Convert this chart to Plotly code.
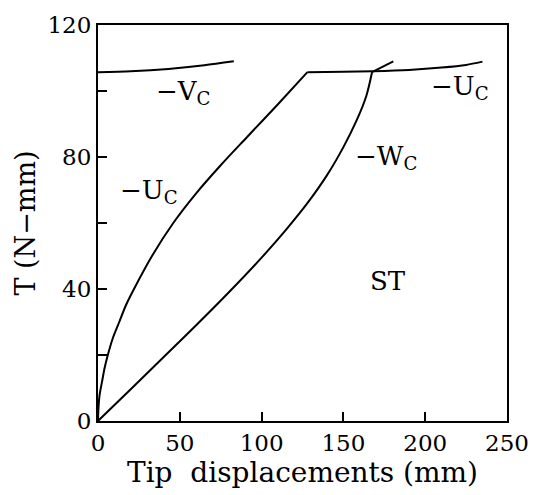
import plotly.graph_objects as go

# -U_C rising branch
u_x = [0, 0.3, 1, 2.5, 4, 6, 9, 13, 17, 22, 33, 46, 60, 75, 91, 110, 128]
u_t = [0, 4, 8, 12, 16, 20, 25, 30, 35, 40, 50, 60, 69, 77.5, 86, 96, 105.7]
# -U_C near-flat continuation
u2_x = [128, 150, 168, 190, 210, 225, 235]
u2_t = [105.7, 105.8, 106.0, 106.4, 107.1, 107.9, 108.9]

# -V_C curve
v_x = [0, 20, 43, 65, 83]
v_t = [105.7, 106.0, 106.7, 107.8, 109.0]

# -W_C curve
w_x = [0, 20, 40, 60, 80, 100, 115, 128, 140, 150, 158, 164, 167.5]
w_t = [0, 9.6, 19.3, 29, 39, 49.5, 58, 66, 74.5, 83, 91, 98.5, 105.7]
w_branch_x = [167.5, 180.5]
w_branch_t = [105.7, 109.0]

x_ticks = [0, 50, 100, 150, 200, 250]
y_ticks = [0, 40, 80, 120]
y_minor_ticks = [20, 60, 100]

labels = [
    ("\u2212V<sub>C</sub>", 52, 99.5),
    ("\u2212U<sub>C</sub>", 31, 69.5),
    ("\u2212W<sub>C</sub>", 176, 80),
    ("\u2212U<sub>C</sub>", 221, 101),
    ("ST", 177, 42.5),
]

FONT = "DejaVu Serif"
line = dict(color="black", width=2)

fig = go.Figure()
fig.add_trace(go.Scatter(x=u_x, y=u_t, mode="lines", line=dict(line, shape="spline", smoothing=0.8)))
fig.add_trace(go.Scatter(x=u2_x, y=u2_t, mode="lines", line=dict(line, shape="spline", smoothing=0.8)))
fig.add_trace(go.Scatter(x=v_x, y=v_t, mode="lines", line=dict(line, shape="spline", smoothing=0.8)))
fig.add_trace(go.Scatter(x=w_x, y=w_t, mode="lines", line=dict(line, shape="spline", smoothing=0.8)))
fig.add_trace(go.Scatter(x=w_branch_x, y=w_branch_t, mode="lines", line=line))

for txt, x, y in labels:
    fig.add_annotation(x=x, y=y, text=txt, showarrow=False,
                       font=dict(family=FONT, size=26, color="black"))

fig.update_layout(
    width=541, height=495,
    margin=dict(l=98, r=26, t=18, b=74),
    paper_bgcolor="white", plot_bgcolor="white",
    showlegend=False,
    font=dict(family=FONT, color="black", size=22),
)
fig.update_xaxes(
    range=[0, 250], tickvals=x_ticks, ticks="inside", ticklen=9, tickwidth=1.5,
    tickcolor="black", showline=True, linecolor="black", linewidth=2, mirror=True,
    showgrid=False, zeroline=False, tickfont=dict(family=FONT, size=23),
    title=dict(text="Tip  displacements (mm)", font=dict(family=FONT, size=28), standoff=6),
)
fig.update_yaxes(
    range=[0, 120], tickvals=y_ticks, ticks="inside", ticklen=9,
    tickwidth=1.5, tickcolor="black", showline=True, linecolor="black", linewidth=2,
    mirror=True, showgrid=False, zeroline=False, tickfont=dict(family=FONT, size=23),
    minor=dict(tickvals=y_minor_ticks, ticks="inside", ticklen=9, tickwidth=1.5,
               tickcolor="black", showgrid=False),
    title=dict(text="T (N\u2212mm)", font=dict(family=FONT, size=27), standoff=4),
)

fig.write_html("out.html")
